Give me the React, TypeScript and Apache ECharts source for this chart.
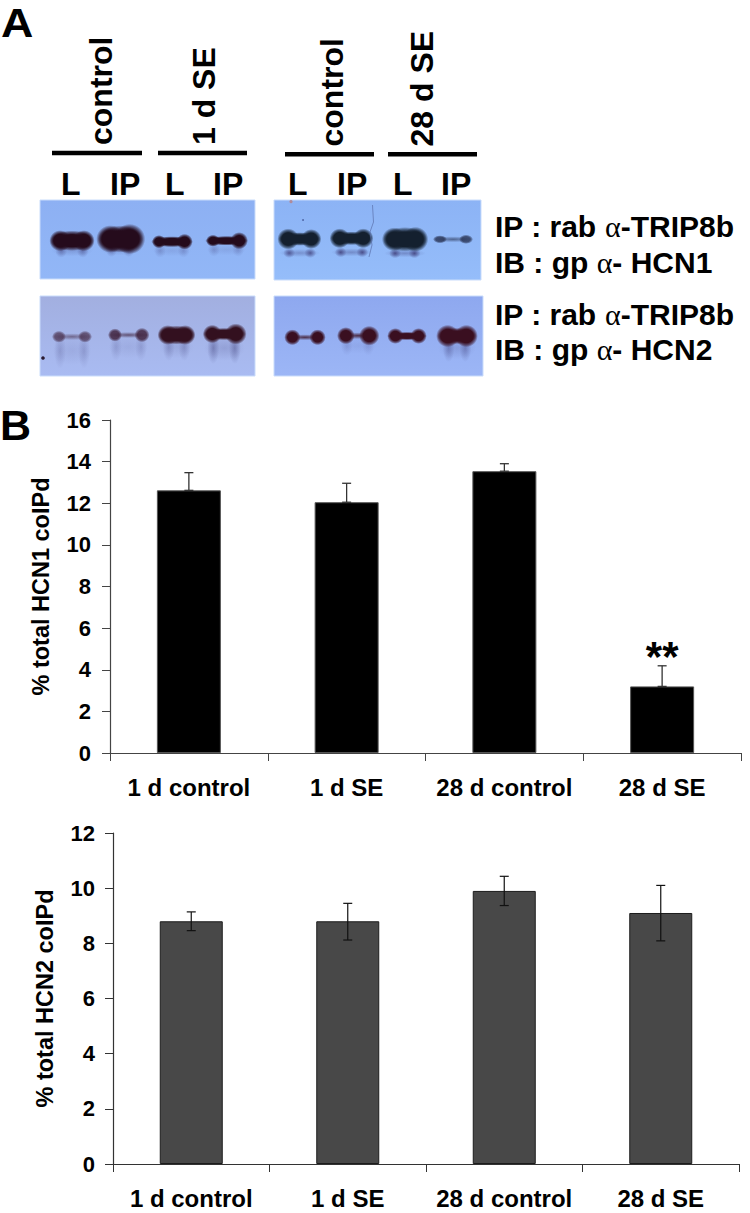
import React, { useEffect, useRef } from "react";
import * as echarts from "echarts";

const categories1 = ["1 d control", "1 d SE", "28 d control", "28 d SE"];
const categories2 = ["1 d control", "1 d SE", "28 d control", "28 d SE"];
const hcn1Mean = [12.62, 12.05, 13.54, 3.2];
const hcn1Upper = [13.47, 12.96, 13.9, 4.19];
const hcn1Marks = ["", "", "", "**"];
const hcn2Mean = [8.8, 8.8, 9.9, 9.1];
const hcn2Upper = [9.14, 9.45, 10.43, 10.1];
const hcn2Lower = [8.46, 8.12, 9.37, 8.09];

const FONT = "'Liberation Sans', Arial, sans-serif";
const W = 750;
const H = 1213;

// Panel A is a photographed western blot; these lists describe its look only.
// panel: x, y, w, h, colour at top, colour at bottom
const blotPanels = [
  [40, 200, 215, 79, "#8db0f3", "#92b7f7"],
  [40, 296, 215, 80, "#a2afe0", "#a9bbf2"],
  [274, 200, 207, 80, "#8cb3f5", "#95bdfa"],
  [274, 296, 209, 80, "#8ea8ef", "#9cb6f6"],
];
// band: x0, x1, cy, left lobe h, right lobe h, bridge h, opacity, colour, ghost opacity, ghost offset, ghost ry
const blotBands: any[][] = [
  [53, 91, 240.7, 16, 16, 15, 1, "#250b1c", 0.5, 10, 7],
  [101, 140, 239, 21, 23, 20, 1, "#250b1c", 0.5, 10, 8],
  [154, 190, 241.7, 10, 12, 8, 1, "#250b1c", 0.28, 9, 7],
  [208, 245, 240.7, 9, 13, 7, 1, "#250b1c", 0.28, 9, 7],
  [54, 90, 336.7, 9, 9, 5, 0.62, "#3a1a33", 0.22, 14, 18],
  [110, 147, 335, 10, 11, 4, 0.8, "#3a1a33", 0.2, 12, 14],
  [161, 192, 335, 15, 15, 14, 1, "#33101f", 0.28, 12, 14],
  [206, 243, 334, 14, 16, 9, 1, "#33101f", 0.42, 14, 16],
  [281, 318, 239, 16, 15, 10, 1, "#14202f", 0.75, 14, 5],
  [333, 370, 238.3, 15, 15, 10, 1, "#14202f", 0.85, 14, 5],
  [386, 424, 239.3, 18, 19, 18, 1, "#14202f", 0.85, 14, 5],
  [435, 471, 239.3, 6, 7, 3, 0.7, "#1c2340", 0, 0, 0],
  [287, 323, 337.3, 12, 12, 3, 1, "#3a0f20", 0, 0, 0],
  [340, 376, 335.7, 13, 15, 5, 1, "#3a0f20", 0.18, 10, 10],
  [390, 424, 336, 12, 12, 6, 1, "#3a0f20", 0, 0, 0],
  [440, 474, 336, 17, 17, 12, 1, "#3a0f20", 0.4, 12, 14],
];
const laneBars = [
  [52, 142, 153],
  [158, 247, 153],
  [285, 374, 154.3],
  [388, 477, 154.3],
];
const laneHeadings = [
  ["control", 112, 145],
  ["1 d SE", 215, 145],
  ["control", 343, 146.5],
  ["28 d SE", 433, 146.5],
];
const laneLabels = [
  ["L", 61, 195],
  ["IP", 110, 195],
  ["L", 165, 195],
  ["IP", 213, 195],
  ["L", 288, 195],
  ["IP", 337, 195],
  ["L", 393, 195],
  ["IP", 441, 195],
];
const blotCaptions = [
  ["IP : rab ", "-TRIP8b", 236.7],
  ["IB : gp ", "- HCN1", 272.7],
  ["IP : rab ", "-TRIP8b", 325],
  ["IB : gp ", "- HCN2", 360],
];

function fade(color: string) {
  return new (echarts.graphic as any).RadialGradient(0.5, 0.5, 0.5, [
    { offset: 0, color },
    { offset: 0.6, color },
    { offset: 0.82, color: color + "88" },
    { offset: 1, color: color + "00" },
  ]);
}

function haze(color: string) {
  return new (echarts.graphic as any).RadialGradient(0.5, 0.5, 0.5, [
    { offset: 0, color },
    { offset: 1, color: color + "00" },
  ]);
}

function blob(cx: number, cy: number, rx: number, ry: number, fill: any, opacity: number) {
  return { type: "ellipse", silent: true, shape: { cx, cy, rx, ry }, style: { fill, opacity } };
}

function text(t: string, x: number, baseline: number, size: number, extra: any = {}) {
  return {
    type: "text",
    silent: true,
    x,
    y: baseline - 0.3465 * size,
    style: {
      text: t,
      fill: "#000",
      font: `bold ${size}px ${FONT}`,
      align: "left",
      verticalAlign: "middle",
      ...extra,
    },
  };
}

function blotElements() {
  const out: any[] = [];
  blotPanels.forEach(([x, y, w, h, c0, c1]: any) => {
    out.push({
      type: "rect",
      silent: true,
      shape: { x, y, width: w, height: h },
      style: {
        fill: new (echarts.graphic as any).LinearGradient(0, 0, 0, 1, [
          { offset: 0, color: c0 },
          { offset: 1, color: c1 },
        ]),
        stroke: "#c9dcfb",
        lineWidth: 1,
      },
    });
  });
  blotBands.forEach(([x0, x1, cy, hL, hR, hM, op, color, ghost, off, gry]) => {
    const ghostColor = "#40407c";
    const lx = x0 + Math.max(hL * 0.45, 5);
    const rx = x1 - Math.max(hR * 0.45, 5);
    if (ghost > 0) {
      out.push(blob((x0 + x1) / 2, cy + off, (x1 - x0) / 2 + 2, gry * 0.8, haze(ghostColor), ghost * 0.45));
      out.push(blob(lx + 1, cy + off, 6, gry, haze(ghostColor), ghost));
      out.push(blob(rx - 1, cy + off, 6, gry, haze(ghostColor), ghost));
    }
    const thin = hM < 6;
    out.push(
      blob((x0 + x1) / 2, cy, (x1 - x0) / 2 + 3, Math.max(hM * 0.68, 3), thin ? haze(color) : fade(color), thin ? op * 0.8 : op)
    );
    out.push(blob(lx, cy, Math.max(hL * 0.68, 7), hL * 0.66, fade(color), op));
    out.push(blob(rx, cy, Math.max(hR * 0.68, 7), hR * 0.66, fade(color), op));
  });
  // scratch and specks on the film
  out.push({
    type: "polyline",
    silent: true,
    shape: {
      points: [
        [372.5, 205],
        [373.5, 222],
        [370, 232],
        [372, 245],
        [369, 257],
      ],
    },
    style: { stroke: "#5a70ab", lineWidth: 0.7, fill: "none" },
  });
  out.push({ type: "circle", silent: true, shape: { cx: 43, cy: 358, r: 1.8 }, style: { fill: "#2a1a30" } });
  out.push({ type: "circle", silent: true, shape: { cx: 291, cy: 201.7, r: 1.6 }, style: { fill: "#b08a9a" } });
  out.push({ type: "circle", silent: true, shape: { cx: 303, cy: 220, r: 0.9 }, style: { fill: "#4a5f9f" } });

  laneBars.forEach(([x0, x1, y]) => {
    out.push({
      type: "rect",
      silent: true,
      shape: { x: x0, y: y - 2.2, width: x1 - x0, height: 4.4 },
      style: { fill: "#000" },
    });
  });
  laneHeadings.forEach(([t, x, y]: any) => {
    out.push({
      ...text(t, 0, 0, 32),
      x: x - 0.3465 * 32,
      y,
      rotation: Math.PI / 2,
    });
  });
  laneLabels.forEach(([t, x, y]: any) => out.push(text(t, x, y, 32)));
  blotCaptions.forEach(([a, b, y]: any) => {
    const size = 30;
    out.push({
      type: "text",
      silent: true,
      x: 495,
      y: y - 0.3465 * size,
      style: {
        text: `{a|${a}}{s|α}{a|${b}}`,
        align: "left",
        verticalAlign: "middle",
        rich: {
          a: { font: `bold ${size}px ${FONT}`, fill: "#000" },
          s: { font: `${size}px 'Liberation Serif', serif`, fill: "#000" },
        },
      },
    });
  });
  out.push({ ...text("A", 1, 37, 40), scaleX: 1.12 });
  out.push(text("B", 0, 440, 43));
  return out;
}

function errorSeries(
  xAxisIndex: number,
  upper: number[],
  lower: number[],
  marks: string[],
  color: string,
  width: number
) {
  return {
    type: "custom",
    xAxisIndex,
    yAxisIndex: xAxisIndex,
    z: 5,
    silent: true,
    encode: { x: 0, y: [1, 2] },
    data: upper.map((u, i) => [i, lower[i], u, marks[i]]),
    renderItem: (_: any, api: any) => {
      const i = api.value(0);
      const lo = api.coord([i, api.value(1)]);
      const hi = api.coord([i, api.value(2)]);
      const cap = 4.5;
      const style = { stroke: color, lineWidth: width, fill: "none" };
      const seg = (x1: number, y1: number, x2: number, y2: number) => ({
        type: "line",
        shape: { x1, y1, x2, y2 },
        style,
      });
      const children: any[] = [
        seg(hi[0], hi[1], lo[0], lo[1]),
        seg(hi[0] - cap, hi[1], hi[0] + cap, hi[1]),
        seg(lo[0] - cap, lo[1], lo[0] + cap, lo[1]),
      ];
      const mark = marks[i];
      if (mark) {
        children.push({
          type: "text",
          x: hi[0],
          y: hi[1] + 12,
          style: {
            text: mark,
            font: `bold 42px ${FONT}`,
            fill: "#000",
            align: "center",
            verticalAlign: "bottom",
          },
        });
      }
      return { type: "group", children };
    },
  };
}

function xAxis(gridIndex: number, data: string[], color: string) {
  return {
    type: "category",
    gridIndex,
    data,
    boundaryGap: true,
    axisTick: { show: true, alignWithLabel: false, length: 8, lineStyle: { color, width: 1 } },
    axisLine: { lineStyle: { color, width: 1.2 } },
    axisLabel: {
      color: "#000",
      fontFamily: "Liberation Sans",
      fontWeight: "bold",
      fontSize: 24,
      margin: 22,
      interval: 0,
    },
    splitLine: { show: false },
  };
}

function yAxis(gridIndex: number, max: number, name: string, color: string, nameGap: number, margin: number) {
  return {
    type: "value",
    gridIndex,
    min: 0,
    max,
    interval: 2,
    name,
    nameLocation: "middle",
    nameGap,
    nameTextStyle: { color: "#000", fontFamily: "Liberation Sans", fontWeight: "bold", fontSize: 23.5 },
    axisLine: { show: true, lineStyle: { color, width: 1.2 } },
    axisTick: { show: true, length: 8, lineStyle: { color, width: 1 } },
    axisLabel: {
      color: "#000",
      fontFamily: "Liberation Sans",
      fontWeight: "bold",
      fontSize: 22,
      margin,
    },
    splitLine: { show: false },
  };
}

export default function App() {
  const ref = useRef<HTMLDivElement>(null);
  useEffect(() => {
    document.body.style.margin = "0";
    const chart = echarts.init(ref.current!, null, { renderer: "svg", width: W, height: H });
    chart.setOption({
      animation: false,
      backgroundColor: "#fff",
      grid: [
        { left: 110, top: 420, width: 631, height: 333 },
        { left: 113, top: 833, width: 626, height: 331 },
      ],
      xAxis: [xAxis(0, categories1, "#444"), xAxis(1, categories2, "#333")],
      yAxis: [
        yAxis(0, 16, "% total HCN1 coIPd", "#444", 57, 19),
        yAxis(1, 12, "% total HCN2 coIPd", "#333", 56, 18),
      ],
      series: [
        {
          type: "bar",
          xAxisIndex: 0,
          yAxisIndex: 0,
          data: hcn1Mean,
          barWidth: 64,
          itemStyle: { color: "#000", borderColor: "#555", borderWidth: 1 },
        },
        errorSeries(0, hcn1Upper, hcn1Mean, hcn1Marks, "#333", 1.3),
        {
          type: "bar",
          xAxisIndex: 1,
          yAxisIndex: 1,
          data: hcn2Mean,
          barWidth: 63,
          itemStyle: { color: "#484848", borderColor: "#1c1c1c", borderWidth: 1 },
        },
        errorSeries(1, hcn2Upper, hcn2Lower, ["", "", "", ""], "#111", 1.2),
      ],
      graphic: { elements: blotElements() },
    });
    return () => chart.dispose();
  }, []);
  return <div ref={ref} style={{ position: "absolute", left: 0, top: 0, width: W, height: H }} />;
}
